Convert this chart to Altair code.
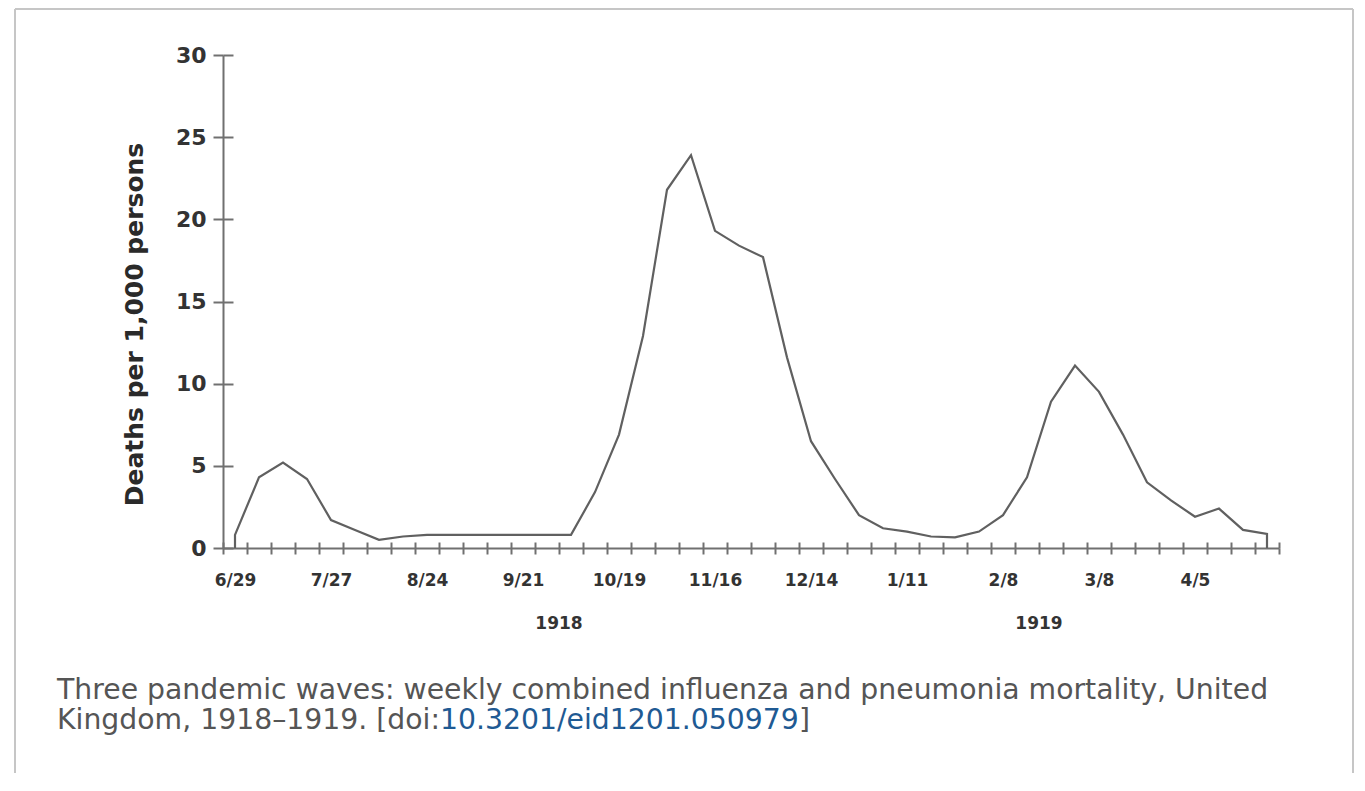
import altair as alt
import pandas as pd

# ---- data ------------------------------------------------------------------
WEEKS = ["6/29", "7/6", "7/13", "7/20", "7/27", "8/3", "8/10", "8/17", "8/24", "8/31",
         "9/7", "9/14", "9/21", "9/28", "10/5", "10/12", "10/19", "10/26", "11/2", "11/9",
         "11/16", "11/23", "11/30", "12/7", "12/14", "12/21", "12/28", "1/4", "1/11", "1/18",
         "1/25", "2/1", "2/8", "2/15", "2/22", "3/1", "3/8", "3/15", "3/22", "3/29",
         "4/5", "4/12", "4/19", "4/26"]
RATES = [0.8, 4.3, 5.2, 4.2, 1.7, 1.1, 0.5, 0.7, 0.8, 0.8,
         0.8, 0.8, 0.8, 0.8, 0.8, 3.4, 6.9, 12.9, 21.8, 23.9,
         19.3, 18.4, 17.7, 11.6, 6.5, 4.2, 2.0, 1.2, 1.0, 0.7,
         0.65, 1.0, 2.0, 4.3, 8.9, 11.1, 9.5, 6.9, 4.0, 2.9,
         1.9, 2.4, 1.1, 0.85]
EDGE_VALUE = 0.0  # the curve starts and ends on the baseline
LABELED_WEEKS = ["6/29", "7/27", "8/24", "9/21", "10/19", "11/16", "12/14",
                 "1/11", "2/8", "3/8", "4/5"]
Y_TICKS = [0, 5, 10, 15, 20, 25, 30]
YEAR_LABELS = ["1918", "1919"]
YEAR_ANCHOR_WEEKS = ["9/28", "2/15"]
Y_TITLE = "Deaths per 1,000 persons"
CAPTION_LINE1 = "Three pandemic waves: weekly combined influenza and pneumonia mortality, United"
CAPTION_LINE2_A = "Kingdom, 1918\u20131919. [doi:"
CAPTION_DOI = "10.3201/eid1201.050979"
CAPTION_LINE2_B = "]"

weeks_col = [WEEKS[0]] + WEEKS + [WEEKS[-1]]
rates_col = [EDGE_VALUE] + RATES + [EDGE_VALUE]
df = pd.DataFrame({"week": weeks_col, "rate": rates_col, "order": list(range(len(weeks_col)))})
years_df = pd.DataFrame({"year": YEAR_LABELS, "week": YEAR_ANCHOR_WEEKS})

FONT = "DejaVu Sans"
AXIS_GRAY = "#707070"
TEXT_DARK = "#333333"

xscale = alt.Scale(type="band", domain=WEEKS, paddingInner=0, paddingOuter=0)
yscale = alt.Scale(domain=[0, 30], nice=False)

label_list = "[" + ",".join("'" + w + "'" for w in LABELED_WEEKS) + "]"

x_axis_main = alt.Axis(
    orient="bottom", title=None, grid=False, tickBand="extent",
    domain=True, domainColor=AXIS_GRAY, domainWidth=2,
    ticks=True, tickColor=AXIS_GRAY, tickWidth=2, tickSize=6,
    labelExpr="indexof(" + label_list + ", datum.value) >= 0 ? datum.label : ''",
    labelAngle=0, labelFont=FONT, labelFontSize=17, labelFontWeight="bold",
    labelColor=TEXT_DARK, labelPadding=18,
)
x_axis_inner = alt.Axis(
    orient="bottom", title=None, grid=False, tickBand="extent", offset=-6,
    domain=False, labels=False, ticks=True, tickColor=AXIS_GRAY, tickWidth=2, tickSize=6,
)
y_axis_main = alt.Axis(
    orient="left", values=Y_TICKS, grid=False,
    domain=True, domainColor=AXIS_GRAY, domainWidth=2,
    ticks=True, tickColor=AXIS_GRAY, tickWidth=2, tickSize=10,
    labelFont=FONT, labelFontSize=22, labelFontWeight="bold", labelColor=TEXT_DARK,
    labelPadding=7,
    title=Y_TITLE, titleFont=FONT, titleFontSize=25, titleFontWeight="bold",
    titleColor="#2a2a2a", titleX=-76, titleY=269,
)
y_axis_inner = alt.Axis(
    orient="left", values=Y_TICKS, grid=False, offset=-10,
    domain=False, labels=False, ticks=True, tickColor=AXIS_GRAY, tickWidth=2, tickSize=10,
    title=None,
)

line = alt.Chart(df).mark_line(color="#606060", strokeWidth=2.2).encode(
    x=alt.X("week:O", scale=xscale, bandPosition=0.5, axis=x_axis_main),
    y=alt.Y("rate:Q", scale=yscale, axis=y_axis_main),
    order=alt.Order("order:Q"),
)

ghost = alt.Chart(df).mark_line(strokeOpacity=0).encode(
    x=alt.X("week:O", scale=xscale, bandPosition=0.5, axis=x_axis_inner),
    y=alt.Y("rate:Q", scale=yscale, axis=y_axis_inner),
    order=alt.Order("order:Q"),
)

years = alt.Chart(years_df).mark_text(
    font=FONT, fontSize=17, fontWeight="bold", color=TEXT_DARK, align="center",
    baseline="middle"
).encode(
    x=alt.X("week:O", scale=xscale, bandPosition=1, axis=None),
    y=alt.value(569),
    text="year:N",
)

CAP_FONT_SIZE = 28.3
CAP_GRAY = "#555555"
CAP_BLUE = "#1f5a93"


def caption(text, xpos, ypos, color):
    return alt.Chart(pd.DataFrame({"t": [text]})).mark_text(
        font=FONT, fontSize=CAP_FONT_SIZE, color=color, align="left", baseline="alphabetic"
    ).encode(x=alt.value(xpos), y=alt.value(ypos), text="t:N")


cap1 = caption(CAPTION_LINE1, -166, 644, CAP_GRAY)
cap2a = caption(CAPTION_LINE2_A, -166, 674, CAP_GRAY)
cap2b = caption(CAPTION_DOI, 217, 674, CAP_BLUE)
cap2c = caption(CAPTION_LINE2_B, 576, 674, CAP_GRAY)

FRAME = "#c6c6c6"
one = pd.DataFrame({"k": [0]})
frame_top = alt.Chart(one).mark_rule(color=FRAME, strokeWidth=2).encode(
    x=alt.value(-208), x2=alt.value(1130), y=alt.value(-46))
frame_left = alt.Chart(one).mark_rule(color=FRAME, strokeWidth=2).encode(
    x=alt.value(-208), y=alt.value(-46), y2=alt.value(720))
frame_right = alt.Chart(one).mark_rule(color=FRAME, strokeWidth=2).encode(
    x=alt.value(1130), y=alt.value(-46), y2=alt.value(720))

chart = alt.layer(
    ghost, line, years, cap1, cap2a, cap2b, cap2c, frame_top, frame_left, frame_right
).resolve_axis(
    x="independent", y="independent"
).properties(
    width=1056, height=493,
    padding={"left": 215, "top": 47, "right": 76, "bottom": 225},
    autosize=alt.AutoSizeParams(type="none"),
    background="white",
).configure_view(stroke=None)

chart.save("out.html", embed_options={"renderer": "svg", "actions": False})
